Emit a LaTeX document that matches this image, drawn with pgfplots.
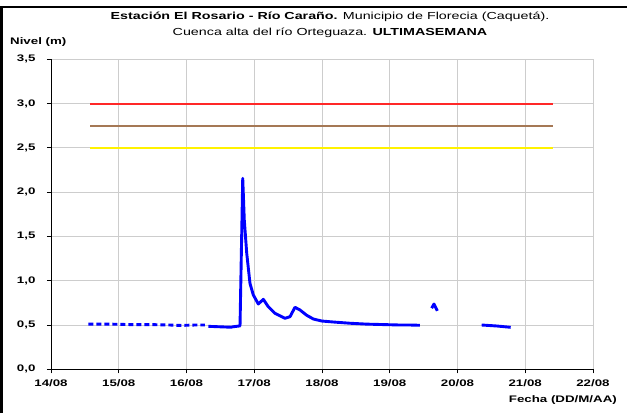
\documentclass[border=0pt]{standalone}
\usepackage{fontspec}
\setmainfont{Liberation Sans}[FakeStretch=1.4]
\usepackage{pgfplots}
\pgfplotsset{compat=1.18}
\definecolor{lvlbrown}{RGB}{165,120,85}
\definecolor{lvlred}{RGB}{255,40,40}
\definecolor{gridgray}{RGB}{205,205,205}
\begin{document}
\begin{tikzpicture}
\path[use as bounding box] (-51pt,-43.7pt) rectangle (576pt,369.3pt);
\draw[black,line width=2.5pt] (-49.5pt,-43.7pt) -- (-49.5pt,362.3pt) -- (576pt,362.3pt);
\begin{axis}[
  at={(0pt,0pt)}, anchor=south west,
  scale only axis, width=542pt, height=310pt,
  xmin=0, xmax=8, ymin=0, ymax=3.5,
  xtick={0,1,...,8},
  xticklabels={14/08,15/08,16/08,17/08,18/08,19/08,20/08,21/08,22/08},
  ytick={0,0.5,...,3.5},
  grid=major,
  major grid style={color=gridgray, line width=0.9pt},
  axis x line*=bottom, axis y line*=left,
  x axis line style={-}, y axis line style={-},
  axis line style={black, line width=0.8pt},
  tick align=outside, major tick length=4pt,
  tick style={black, line width=0.8pt},
  /pgf/number format/assume math mode=true,
  /pgf/number format/.cd, use comma, fixed, fixed zerofill, precision=1,
  /pgfplots/.cd,
  ticklabel style={font=\fontsize{9.5}{11}\selectfont\bfseries},
  yticklabel style={xshift=-8pt},
  xticklabel style={yshift=-2.5pt},
]
% thresholds
\addplot[color=yellow, solid, line width=1.7pt, mark=none] coordinates {(0.576,2.5) (7.41,2.5)};
\addplot[color=lvlbrown, solid, line width=1.7pt, mark=none] coordinates {(0.576,2.75) (7.41,2.75)};
\addplot[color=lvlred, solid, line width=2.0pt, mark=none] coordinates {(0.576,3.0) (7.41,3.0)};
% dotted segment
\addplot[blue, line width=2.9pt, dash pattern=on 5pt off 3pt] coordinates {
(0.551,0.51) (0.871,0.51) (1.166,0.505) (1.461,0.505) (1.756,0.50) (1.904,0.495) (2.125,0.50) (2.273,0.50)};
% main segment
\addplot[blue, line width=2.9pt, line join=round] coordinates {
(2.322,0.485) (2.657,0.475) (2.686,0.48) (2.790,0.49) (2.830,2.157) (2.853,1.686) (2.889,1.31)
(2.937,0.97) (2.986,0.84) (3.060,0.737) (3.134,0.79) (3.207,0.707) (3.306,0.632) (3.454,0.576)
(3.528,0.594) (3.601,0.70) (3.675,0.67) (3.774,0.61) (3.872,0.568) (3.996,0.545) (4.167,0.534)
(4.413,0.52) (4.660,0.51) (4.905,0.505) (5.151,0.50) (5.299,0.50) (5.446,0.497)};
% blip
\addplot[blue, line width=2.9pt, line join=round] coordinates {(5.619,0.69) (5.653,0.737) (5.702,0.66)};
% last segment
\addplot[blue, line width=2.9pt] coordinates {(6.357,0.50) (6.579,0.489) (6.785,0.474)};
\end{axis}
\node[font=\fontsize{10.2}{16}\selectfont, align=center] at (279pt,344pt)
  {\textbf{Estación El Rosario - Río Caraño.} Municipio de Florecia (Caquetá).\\
   Cuenca alta del río Orteguaza. \textbf{ULTIMASEMANA}};
\node[font=\fontsize{9.5}{11}\selectfont\bfseries, anchor=west, inner sep=0pt] at (-41pt,327.3pt) {Nivel (m)};
\node[font=\fontsize{9.5}{11}\selectfont\bfseries, anchor=east, inner sep=0pt] at (566pt,-30.7pt) {Fecha (DD/M/AA)};
\end{tikzpicture}
\end{document}
